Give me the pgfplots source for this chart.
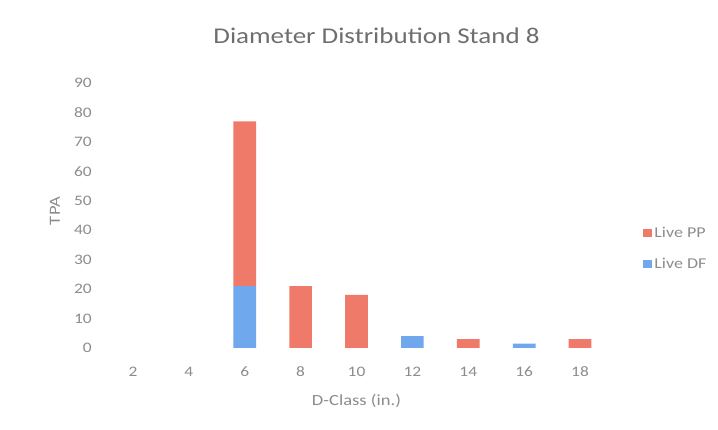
\documentclass[border=0pt]{standalone}
\usepackage{fontspec}
\setmainfont{Carlito}[FakeStretch=1.2]
\usepackage{pgfplots}
\pgfplotsset{compat=1.18}
\definecolor{pp}{HTML}{EF7A6A}
\definecolor{df}{HTML}{6FA8EC}
\definecolor{txt}{HTML}{8C8C8C}
\definecolor{ttl}{HTML}{6E6E6E}
\begin{document}
\begin{tikzpicture}
\begin{axis}[
  name=ax, at={(0pt,0pt)}, anchor=south west,
  scale only axis, width=503pt, height=265pt,
  ybar stacked, bar width=22.7pt,
  xmin=-0.5, xmax=8.5, ymin=0, ymax=90,
  xtick={0,...,8}, xticklabels={2,4,6,8,10,12,14,16,18},
  ytick={0,10,...,90},
  axis line style={draw=none},
  major tick length=0pt,
  tick label style={font=\fontsize{14.5}{14.5}\selectfont, text=txt, inner sep=0pt},
  /pgf/number format/assume math mode=true,
  xticklabel style={anchor=center, yshift=-24pt},
  yticklabel style={anchor=east, xshift=-13pt},
  xlabel={D-Class (in.)}, ylabel={TPA},
  label style={font=\fontsize{15.5}{15.5}\selectfont, text=txt},
  xlabel style={at={(0.5,0)}, anchor=center, yshift=-53pt},
  ylabel style={at={(0,0.517)}, anchor=center, yshift=50pt},
  title={Diameter Distribution Stand 8},
  title style={font=\fontsize{22.5}{22.5}\selectfont, text=ttl, at={(0.5,1)}, anchor=center, xshift=20pt, yshift=41pt},
  legend style={draw=none, fill=none, at={(1.064,0.375)}, anchor=west,
    font=\fontsize{15}{15}\selectfont, text=txt, row sep=15pt,
    legend cell align=left},
  reverse legend,
  legend image code/.code={\fill[#1] (0pt,-4pt) rectangle (9pt,4pt);},
]
\addplot[fill=df, draw=none] coordinates {(0,0) (1,0) (2,21) (3,0) (4,0) (5,4) (6,0) (7,1.5) (8,0)};
\addplot[fill=pp, draw=none] coordinates {(0,0) (1,0) (2,56) (3,21) (4,18) (5,0) (6,3) (7,0) (8,3)};
\legend{Live DF, Live PP}
\end{axis}
\pgfresetboundingbox
\path[use as bounding box] (-105pt,-82pt) rectangle (613pt,348pt);
\end{tikzpicture}
\end{document}
